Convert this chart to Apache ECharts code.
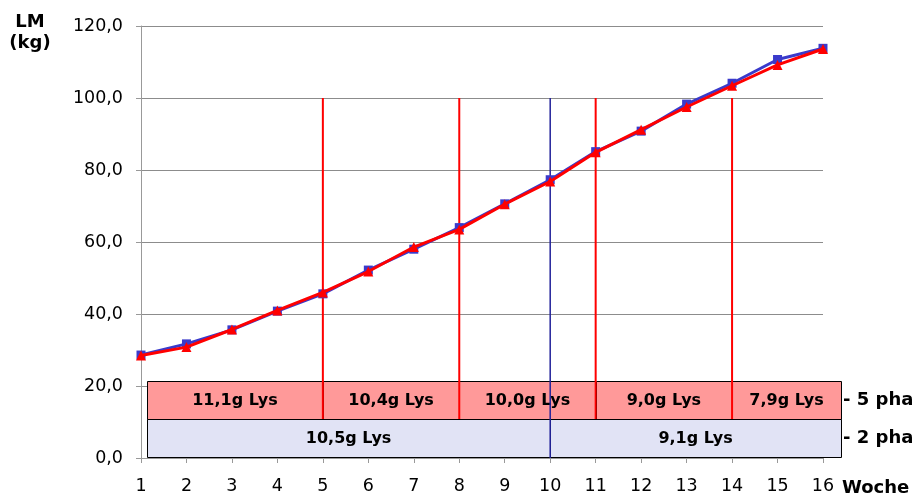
<!DOCTYPE html>
<html>
<head>
<meta charset="utf-8">
<script src="https://cdn.jsdelivr.net/npm/echarts@6/dist/echarts.min.js"></script>
<style>
html,body{margin:0;padding:0;background:#fff;}
#c{width:915px;height:496px;}
</style>
</head>
<body>
<div id="c"></div>
<script>
const weeks = [1,2,3,4,5,6,7,8,9,10,11,12,13,14,15,16];
const lmTwoPhase = [28.6,31.7,35.6,40.8,45.6,52.2,58.0,64.0,70.6,77.3,85.1,90.8,98.3,104.1,110.7,113.8];
const lmFivePhase = [28.5,30.8,35.7,41.0,46.0,51.8,58.6,63.5,70.5,76.8,84.9,91.2,97.5,103.4,109.2,113.6];
const fivePhaseBounds = [1,5,8,11,14,16];
const fivePhaseLabels = ['11,1g Lys','10,4g Lys','10,0g Lys','9,0g Lys','7,9g Lys'];
const twoPhaseBounds = [1,10,16];
const twoPhaseLabels = ['10,5g Lys','9,1g Lys'];
const rowLabels = ['- 5 pha','- 2 pha'];

const FONT = 'DejaVu Sans';
const rowFill = ['#ff9999','#e1e3f5'];
const lineColor = ['#ff0000','#22229a'];

const bandData = [];
for (let i = 0; i < fivePhaseLabels.length; i++) bandData.push([fivePhaseBounds[i], fivePhaseBounds[i+1], 0, i]);
for (let i = 0; i < twoPhaseLabels.length; i++) bandData.push([twoPhaseBounds[i], twoPhaseBounds[i+1], 1, i]);
const vlineData = [];
fivePhaseBounds.slice(1,-1).forEach(w => vlineData.push([w, 0]));
twoPhaseBounds.slice(1,-1).forEach(w => vlineData.push([w, 1]));

const ROW_H = 38;
function bandRender(params, api) {
  const s = api.value(0), e = api.value(1), row = api.value(2), li = api.value(3);
  let x0 = api.coord([s, 0])[0];
  if (s === weeks[0]) x0 += 6;
  let x1 = api.coord([e, 0])[0];
  const last = e === weeks[weeks.length-1];
  if (last) x1 += 18;
  const y0 = api.coord([weeks[0], 0])[1];
  const top = Math.round(y0 - 1 - (2-row)*ROW_H) + 0.5;
  const label = row === 0 ? fivePhaseLabels[li] : twoPhaseLabels[li];
  const children = [
    {type:'rect', shape:{x:Math.round(x0)+0.5, y:top, width:Math.round(x1-x0), height:ROW_H},
     style:{fill:rowFill[row], stroke:'#000', lineWidth:1}},
    {type:'text', style:{x:(x0+x1)/2, y:top+ROW_H/2, text:label, align:'center', verticalAlign:'middle',
      font:'bold 16px "' + FONT + '"', fill:'#000'}}
  ];
  if (last) {
    children.push({type:'text', style:{x:x1+2, y:top+ROW_H/2, text:rowLabels[row], align:'left', verticalAlign:'middle',
      font:'bold 18px "' + FONT + '"', fill:'#000'}});
  }
  return {type:'group', children};
}
function vlineRender(params, api) {
  const w = api.value(0), row = api.value(1);
  const p = api.coord([w, 100]);
  const y0 = api.coord([weeks[0], 0])[1];
  const bottom = row === 0 ? y0 - 1 - ROW_H : y0;
  return {type:'line', shape:{x1:p[0], y1:p[1], x2:p[0], y2:bottom},
    style:{stroke:lineColor[row], lineWidth:row===0?2:1.5}};
}

const chart = echarts.init(document.getElementById('c'), null, {renderer:'canvas'});
chart.setOption({
  animation:false,
  backgroundColor:'#fff',
  grid:{left:141, right:92, top:26, bottom:38, containLabel:false},
  xAxis:{type:'value', min:1, max:16, interval:1,
    axisLine:{show:true, lineStyle:{color:'#999', width:1}},
    axisTick:{show:true, length:5, lineStyle:{color:'#999'}},
    axisLabel:{fontFamily:FONT, fontSize:17.5, color:'#000', margin:19},
    splitLine:{show:false}},
  yAxis:{type:'value', min:0, max:120, interval:20,
    axisLine:{show:true, lineStyle:{color:'#999', width:1}},
    axisTick:{show:true, length:5, lineStyle:{color:'#999'}},
    axisLabel:{fontFamily:FONT, fontSize:17.5, color:'#000', margin:18,
      formatter:v => v.toFixed(1).replace('.', ',')},
    splitLine:{show:true, lineStyle:{color:'#8c8c8c', width:1}}},
  graphic:[
    {type:'text', x:30, y:22, style:{text:'LM', align:'center', verticalAlign:'middle', font:'bold 18px "'+FONT+'"', fill:'#000'}},
    {type:'text', x:30, y:43, style:{text:'(kg)', align:'center', verticalAlign:'middle', font:'bold 18px "'+FONT+'"', fill:'#000'}},
    {type:'text', x:842, y:488, style:{text:'Woche', align:'left', verticalAlign:'middle', font:'bold 18px "'+FONT+'"', fill:'#000'}}
  ],
  series:[
    {type:'custom', name:'bands', renderItem:bandRender, data:bandData, clip:false, z:1, silent:true,
      encode:{x:[0,1], y:2}},
    {type:'custom', name:'phase lines', renderItem:vlineRender, data:vlineData, clip:false, z:2, silent:true,
      encode:{x:0, y:1}},
    {type:'line', name:'2-phasig', data:weeks.map((w,i)=>[w, lmTwoPhase[i]]), z:3,
      lineStyle:{color:'#3a3acb', width:3}, itemStyle:{color:'#3a3acb'},
      symbol:'rect', symbolSize:9, showSymbol:true},
    {type:'line', name:'5-phasig', data:weeks.map((w,i)=>[w, lmFivePhase[i]]), z:4,
      lineStyle:{color:'#ff0000', width:3}, itemStyle:{color:'#ff0000'},
      symbol:'triangle', symbolSize:10, showSymbol:true}
  ]
});
</script>
</body>
</html>
